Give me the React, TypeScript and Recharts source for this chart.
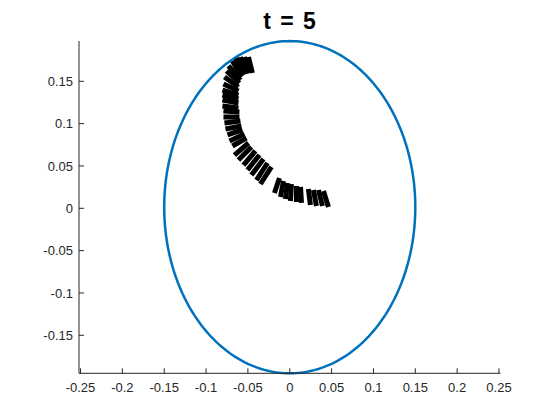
import { LineChart, Line, XAxis, YAxis, ReferenceLine } from "recharts";

// ellipse outline (centre and radii)
const ellipseCx = 0;
const ellipseCy = 0.0013;
const ellipseRx = 0.15;
const ellipseRy = 0.1962;
const ellipseSteps = 240;

const xTicks = [-0.25, -0.2, -0.15, -0.1, -0.05, 0, 0.05, 0.1, 0.15, 0.2, 0.25];
const yTicks = [-0.15, -0.1, -0.05, 0, 0.05, 0.1, 0.15];

// rod segments: inner end -> outer end
const rodInnerX = [
  -0.0446, -0.0481, -0.0517, -0.0553, -0.0577, -0.0589, -0.0601, -0.0613, -0.0613, -0.0613,
  -0.0613, -0.0613, -0.0613, -0.0601, -0.0601, -0.0589, -0.0577, -0.0565, -0.0541, -0.0517,
  -0.0493, -0.0458, -0.041, -0.0362, -0.0314, -0.0266, -0.0219, -0.0123, -0.0075, -0.0028,
  0.002, 0.008, 0.0128, 0.0223, 0.0283, 0.0343, 0.0403,
];
const rodInnerY = [
  0.1598, 0.1598, 0.1586, 0.1574, 0.1551, 0.1515, 0.148, 0.1433, 0.1385, 0.1338,
  0.1291, 0.1244, 0.1185, 0.1137, 0.1078, 0.1031, 0.0972, 0.0925, 0.0877, 0.083,
  0.0771, 0.0724, 0.0677, 0.063, 0.0582, 0.0535, 0.0488, 0.0358, 0.0322, 0.0299,
  0.0287, 0.0263, 0.0252, 0.0228, 0.0216, 0.0216, 0.0204,
];
const rodOuterX = [
  -0.0493, -0.0541, -0.0589, -0.0637, -0.0685, -0.0732, -0.0756, -0.078, -0.0792, -0.0804,
  -0.0804, -0.0804, -0.0804, -0.0792, -0.0792, -0.078, -0.0768, -0.0744, -0.072, -0.0685,
  -0.0661, -0.0613, -0.0553, -0.0505, -0.0458, -0.0398, -0.035, -0.0183, -0.0111, -0.0051,
  0.0008, 0.008, 0.014, 0.0247, 0.0319, 0.0391, 0.0462,
];
const rodOuterY = [
  0.1787, 0.1787, 0.1787, 0.1775, 0.174, 0.1681, 0.1622, 0.1551, 0.1468, 0.1397,
  0.1338, 0.1279, 0.1208, 0.1149, 0.1078, 0.1007, 0.0937, 0.0866, 0.0795, 0.0736,
  0.0629, 0.057, 0.0511, 0.0452, 0.0393, 0.0334, 0.0287, 0.0181, 0.0133, 0.011,
  0.0086, 0.0074, 0.0063, 0.0039, 0.0027, 0.0027, 0.0015,
];

const ellipse = Array.from({ length: ellipseSteps + 1 }, (_, i) => {
  const a = (i / ellipseSteps) * Math.PI * 2;
  return { x: ellipseCx + ellipseRx * Math.cos(a), y: ellipseCy + ellipseRy * Math.sin(a) };
});

const axisColor = "#262626";
const font = "'Liberation Sans', Arial, Helvetica, sans-serif";

const XTick = ({ x, y, payload }: any) => (
  <g>
    <line x1={x} y1={y} x2={x} y2={y - 5} stroke={axisColor} strokeWidth={1} />
    <text x={x} y={y + 19} textAnchor="middle" fill={axisColor} fontSize={13} fontFamily={font}>
      {String(payload.value)}
    </text>
  </g>
);

const YTick = ({ x, y, payload }: any) => (
  <g>
    <line x1={x} y1={y} x2={x + 5} y2={y} stroke={axisColor} strokeWidth={1} />
    <text x={x - 6} y={y} dy="0.36em" textAnchor="end" fill={axisColor} fontSize={13} fontFamily={font}>
      {String(payload.value)}
    </text>
  </g>
);

export default function App() {
  return (
    <div style={{ position: "absolute", left: 0, top: 0, width: 560, height: 420, background: "#fff" }}>
      <LineChart width={560} height={420} margin={{ top: 41, right: 59.5, bottom: 0, left: 0 }}>
        <XAxis
          type="number"
          dataKey="x"
          domain={[-0.2518, 0.2518]}
          ticks={xTicks}
          stroke={axisColor}
          tickLine={false}
          tickSize={0}
          tickMargin={0}
          tick={<XTick />}
          height={46.7}
        />
        <YAxis
          type="number"
          dataKey="y"
          domain={[-0.1949, 0.1976]}
          ticks={yTicks}
          stroke={axisColor}
          tickLine={false}
          tickSize={0}
          tickMargin={0}
          tick={<YTick />}
          width={79}
        />
        <Line
          data={ellipse}
          dataKey="y"
          type="linear"
          stroke="#0072BD"
          strokeWidth={2.5}
          dot={false}
          activeDot={false}
          isAnimationActive={false}
        />
        {rodInnerX.map((x0, i) => (
          <ReferenceLine
            key={i}
            segment={[
              { x: x0, y: rodInnerY[i] },
              { x: rodOuterX[i], y: rodOuterY[i] },
            ]}
            stroke="#000"
            strokeWidth={5}
          />
        ))}
      </LineChart>
      <svg width={560} height={420} style={{ position: "absolute", left: 0, top: 0, pointerEvents: "none" }}>
        <text
          x={289.5}
          y={28.5}
          textAnchor="middle"
          fontSize={23}
          fontWeight="bold"
          wordSpacing={3}
          fontFamily={font}
          fill="#000"
        >
          t = 5
        </text>
      </svg>
    </div>
  );
}
